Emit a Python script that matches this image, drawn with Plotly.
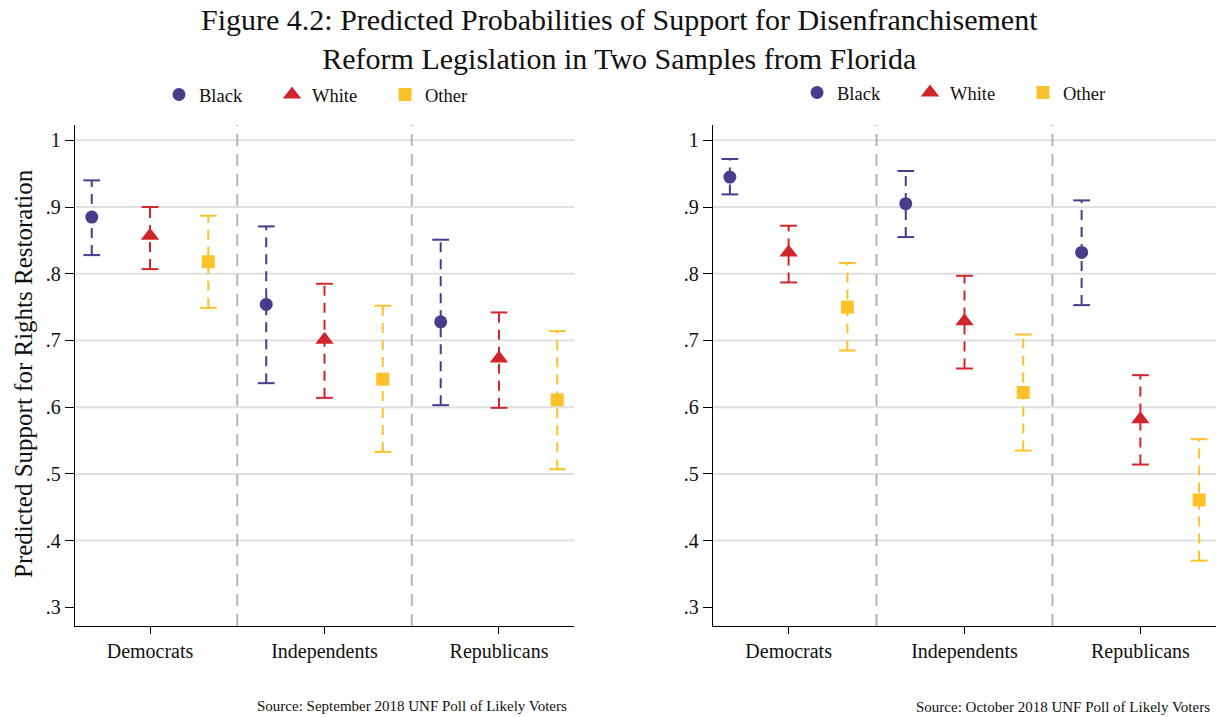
import plotly.graph_objects as go

# Party groups and race categories
groups = ["Democrats", "Independents", "Republicans"]
races = ["Black", "White", "Other"]

# September 2018 sample: point estimates and 95% interval bounds
sep_black = [0.885, 0.754, 0.728]
sep_black_lo = [0.828, 0.636, 0.603]
sep_black_hi = [0.940, 0.871, 0.851]
sep_white = [0.857, 0.701, 0.673]
sep_white_lo = [0.807, 0.614, 0.599]
sep_white_hi = [0.900, 0.785, 0.742]
sep_other = [0.818, 0.642, 0.611]
sep_other_lo = [0.749, 0.533, 0.507]
sep_other_hi = [0.887, 0.752, 0.714]

# October 2018 sample
oct_black = [0.945, 0.905, 0.832]
oct_black_lo = [0.919, 0.855, 0.753]
oct_black_hi = [0.972, 0.954, 0.910]
oct_white = [0.832, 0.729, 0.582]
oct_white_lo = [0.787, 0.658, 0.514]
oct_white_hi = [0.872, 0.797, 0.648]
oct_other = [0.750, 0.622, 0.461]
oct_other_lo = [0.685, 0.535, 0.370]
oct_other_hi = [0.816, 0.709, 0.552]

y_ticks = [0.3, 0.4, 0.5, 0.6, 0.7, 0.8, 0.9, 1.0]
y_tick_labels = [".3", ".4", ".5", ".6", ".7", ".8", ".9", "1"]
grid_values = [0.4, 0.5, 0.6, 0.7, 0.8, 0.9, 1.0]

colors = {"Black": "#463d8c", "White": "#d0262b", "Other": "#fdc22a"}
symbols = {"Black": "circle", "White": "triangle-up", "Other": "square"}
sizes = {"Black": 13, "White": 16, "Other": 13}
offsets = {"Black": -0.334, "White": 0.0, "Other": 0.334}

FONT = "Liberation Serif"

panels = [
    {
        "xaxis": "x", "yaxis": "y", "legend": "legend",
        "data": {
            "Black": (sep_black, sep_black_lo, sep_black_hi),
            "White": (sep_white, sep_white_lo, sep_white_hi),
            "Other": (sep_other, sep_other_lo, sep_other_hi),
        },
    },
    {
        "xaxis": "x2", "yaxis": "y2", "legend": "legend2",
        "data": {
            "Black": (oct_black, oct_black_lo, oct_black_hi),
            "White": (oct_white, oct_white_lo, oct_white_hi),
            "Other": (oct_other, oct_other_lo, oct_other_hi),
        },
    },
]

fig = go.Figure()
group_pos = [i + 1 for i in range(len(groups))]

for p in panels:
    for race in races:
        est, lo, hi = p["data"][race]
        xs = [g + offsets[race] for g in group_pos]
        c = colors[race]
        # dashed interval spikes
        lx, ly = [], []
        for x, a, b in zip(xs, lo, hi):
            lx += [x, x, None]
            ly += [a, b, None]
        fig.add_trace(go.Scatter(
            x=lx, y=ly, mode="lines", xaxis=p["xaxis"], yaxis=p["yaxis"],
            line=dict(color=c, width=2, dash="10px,7px"),
            showlegend=False, hoverinfo="skip"))
        # interval caps
        fig.add_trace(go.Scatter(
            x=xs + xs, y=lo + hi, mode="markers", xaxis=p["xaxis"], yaxis=p["yaxis"],
            marker=dict(symbol="line-ew", size=12, line=dict(color=c, width=2)),
            showlegend=False, hoverinfo="skip"))
        # point estimates
        fig.add_trace(go.Scatter(
            x=xs, y=est, mode="markers", name=race, xaxis=p["xaxis"], yaxis=p["yaxis"],
            legend=p["legend"],
            marker=dict(symbol=symbols[race], size=sizes[race], color=c,
                        line=dict(width=0))))

shapes = []
for xa, ya in (("x", "y"), ("x2", "y2")):
    for gv in grid_values:
        shapes.append(dict(type="line", xref=f"{xa} domain", yref=ya,
                           x0=0, x1=1, y0=gv, y1=gv, layer="below",
                           line=dict(color="#e0e0e0", width=2)))
    for g in group_pos[:-1]:
        shapes.append(dict(type="line", xref=xa, yref=f"{ya} domain",
                           x0=g + 0.5, x1=g + 0.5, y0=0, y1=1, layer="below",
                           line=dict(color="#b5b5b5", width=2, dash="12px,8px")))

W, H = 1216, 717
y_dom = [1 - 626 / H, 1 - 125 / H]

axis_font = dict(family=FONT, size=20, color="#111111")

def xaxis_cfg(domain, anchor):
    return dict(domain=domain, anchor=anchor, range=[0.57, 3.43],
                tickvals=group_pos, ticktext=groups, ticks="outside",
                ticklen=7, tickwidth=1.3, tickcolor="black",
                showline=True, linecolor="black", linewidth=1.3,
                showgrid=False, zeroline=False, tickfont=axis_font)

def yaxis_cfg(anchor):
    return dict(domain=y_dom, anchor=anchor, range=[0.272, 1.023],
                tickvals=y_ticks, ticktext=y_tick_labels, ticks="outside",
                ticklen=9, tickwidth=1.3, tickcolor="black",
                showline=True, linecolor="black", linewidth=1.3,
                showgrid=False, zeroline=False, tickfont=axis_font)

legend_common = dict(orientation="h", xanchor="left", yanchor="middle",
                     font=dict(family=FONT, size=18.5, color="#111111"),
                     bgcolor="rgba(0,0,0,0)", entrywidth=68,
                     itemclick=False, itemdoubleclick=False)

fig.update_layout(
    width=W, height=H,
    margin=dict(l=0, r=0, t=0, b=0),
    plot_bgcolor="white", paper_bgcolor="white",
    xaxis=xaxis_cfg([75 / W, 574 / W], "y"),
    yaxis=yaxis_cfg("x"),
    xaxis2=xaxis_cfg([713 / W, 1.0], "y2"),
    yaxis2=yaxis_cfg("x2"),
    legend=dict(x=159 / W, y=1 - 95 / H, **legend_common),
    legend2=dict(x=797 / W, y=1 - 93 / H, **legend_common),
    shapes=shapes,
    annotations=[
        dict(text="Figure 4.2: Predicted Probabilities of Support for Disenfranchisement<br>"
                  "Reform Legislation in Two Samples from Florida",
             xref="paper", yref="paper", x=620 / W, y=1 - 39 / H,
             xanchor="center", yanchor="middle", showarrow=False, align="center",
             font=dict(family=FONT, size=30, color="#111111")),
        dict(text="Predicted Support for Rights Restoration",
             xref="paper", yref="paper", x=23 / W, y=1 - 374 / H, textangle=-90,
             xanchor="center", yanchor="middle", showarrow=False,
             font=dict(family=FONT, size=25, color="#111111")),
        dict(text="Source: September 2018 UNF Poll of Likely Voters",
             xref="paper", yref="paper", x=569 / W, y=1 - 706 / H,
             xanchor="right", yanchor="middle", showarrow=False,
             font=dict(family=FONT, size=15, color="#111111")),
        dict(text="Source: October 2018 UNF Poll of Likely Voters",
             xref="paper", yref="paper", x=1212 / W, y=1 - 707 / H,
             xanchor="right", yanchor="middle", showarrow=False,
             font=dict(family=FONT, size=15, color="#111111")),
    ],
)

fig.write_html("out.html")
